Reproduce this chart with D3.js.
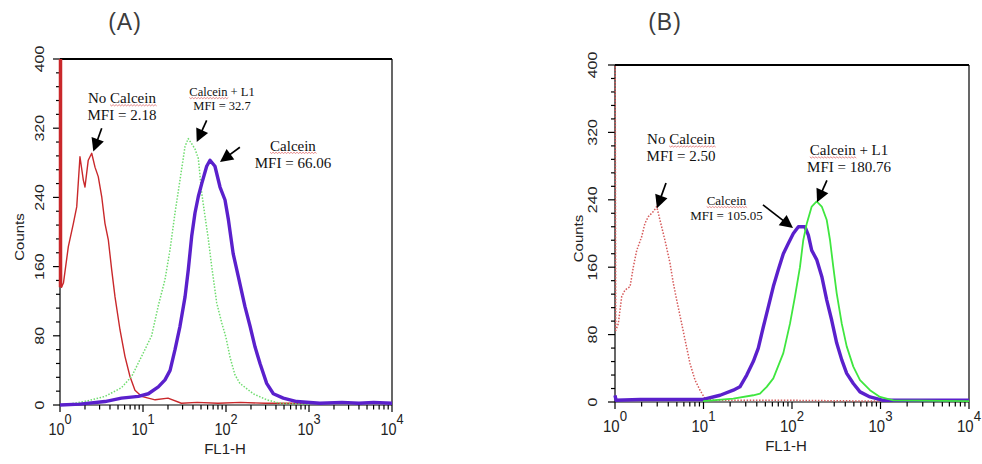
<!DOCTYPE html>
<html><head><meta charset="utf-8">
<script src="https://cdn.jsdelivr.net/npm/d3@7"></script>
<style>body{margin:0;background:#fff}svg{display:block}</style>
</head><body>
<svg id="chart" width="982" height="464"></svg>
<script>
// FL1-H histograms, [channel value, counts]
const redA = [[1,520],[1.04,136],[1.1,141],[1.26,183],[1.45,210],[1.59,229],[1.74,287],[1.91,260],[2.0,252],[2.19,283],[2.41,291],[2.64,275],[2.89,264],[3.18,241],[3.48,210],[3.82,191],[4.2,156],[4.6,125],[5.28,87],[6.07,56],[6.97,33],[8.0,17],[9.6,10],[14,6],[20,8],[29,2],[45,3],[80,2],[150,3],[300,2],[1000,2]];
const greenA = [[1,0],[1.5,2],[2.19,5],[3.5,10],[5.5,20],[7.3,33],[9.6,56],[12.7,80],[15.3,115],[18.4,145],[21.2,180],[24.3,222],[27.9,260],[32.1,299],[35.1,308],[38.6,302],[42.3,296],[46.4,285],[51,245],[55.9,218],[61.2,192],[67.3,160],[77.3,118],[88.8,95],[100,78],[112,55],[128,35],[147,25],[213,13],[309,6],[447,2],[1000,1]];
const purpleA = [[1,0],[1.74,1],[3.48,4],[5.5,8],[8.8,10],[11.6,13],[15.3,21],[18.4,29],[21.2,40],[24.3,64],[27.9,91],[32.1,125],[35.1,156],[38.6,195],[42.3,222],[46.4,241],[51,256],[58.5,276],[64.2,283],[73.6,276],[84.7,252],[97.3,237],[107,214],[122,175],[141,148],[169,114],[195,91],[224,67],[257,48],[309,25],[372,13],[490,8],[711,4],[1350,2],[2500,3],[4000,2],[6000,3],[10000,2]];

const redB = [[1,520],[1.02,85],[1.09,93],[1.19,125],[1.30,133],[1.48,137],[1.61,160],[1.76,180],[2.0,196],[2.18,212],[2.38,220],[2.71,226],[2.96,232],[3.22,216],[3.67,192],[4.18,165],[4.56,141],[4.98,121],[5.67,93],[6.18,74],[7.03,46],[8.02,26],[9.13,14],[10.4,4],[13,2],[100,2],[1000,1]];
const greenB = [[9.9,1],[21.7,4],[36.5,8],[43.5,10],[51.8,18],[61.5,28],[79.8,58],[94.9,93],[108,125],[123,160],[134,192],[147,212],[167,232],[190,238],[217,232],[247,216],[269,192],[293,160],[320,129],[365,93],[415,66],[493,42],[587,26],[761,14],[986,6],[1396,2],[10000,1]];
const purpleB = [[1,8],[1.03,2],[1.92,3],[5.4,3],[9.95,3],[15.4,8],[21.7,14],[25.8,18],[30.8,32],[36.5,48],[41.6,64],[47.4,89],[54,113],[61.5,137],[70,157],[79.8,176],[90.8,188],[103.5,200],[118,208],[140,208],[153,198],[167,180],[190,169],[217,149],[247,121],[281,97],[320,70],[365,50],[415,34],[493,22],[587,12],[761,6],[1075,2],[10000,2]];

const yTickValues = [0, 80, 160, 240, 320, 400];
const xDecades = [0, 1, 2, 3, 4];
const panelTitles = ["(A)", "(B)"];
const labelsA = [["No Calcein", "MFI = 2.18"], ["Calcein + L1", "MFI = 32.7"], ["Calcein", "MFI = 66.06"]];
const labelsB = [["No Calcein", "MFI = 2.50"], ["Calcein", "MFI = 105.05"], ["Calcein + L1", "MFI = 180.76"]];

const svg = d3.select("#chart");

const panels = [
  {
    id: "A", title: panelTitles[0], left: 60, right: 392, top: 59, bottom: 405,
    titleX: 125, xLabX: 225, countsX: 19, yLabOff: 21, xLabScale: 0.85,
    series: [
      {data: redA, color: "#c9282b", width: 1.4, dash: null},
      {data: greenA, color: "#6fdc6f", width: 1.5, dash: "1.5 1.6"},
      {data: purpleA, color: "#5a20cc", width: 3.4, dash: null}
    ],
    spike: {data: redA, color: "#c9282b", width: 3.5},
    notes: [
      {text: labelsA[0], at: [5.58, 355], size: 15, tail: [3.18, 320], tip: [2.52, 293]},
      {text: labelsA[1], at: [89.5, 362], size: 12.5, tail: [58.5, 329], tip: [44.4, 304]},
      {text: labelsA[2], at: [641, 300], size: 15, tail: [147, 298], tip: [84.7, 281]}
    ]
  },
  {
    id: "B", title: panelTitles[1], left: 615, right: 969, top: 65, bottom: 402,
    titleX: 665, xLabX: 786, countsX: 578, yLabOff: 23, xLabScale: 0.88,
    series: [
      {data: redB, color: "#d65a5a", width: 1.5, dash: "1.5 1.6"},
      {data: purpleB, color: "#5a20cc", width: 3.4, dash: null},
      {data: greenB, color: "#3fe63f", width: 1.8, dash: null}
    ],
    spike: null,
    notes: [
      {text: labelsB[0], at: [5.57, 312], size: 15, tail: [3.77, 260], tip: [2.98, 230]},
      {text: labelsB[1], at: [18.2, 239], size: 13, tail: [47, 234], tip: [102.6, 206.5]},
      {text: labelsB[2], at: [441, 299], size: 15, tail: [248, 263], tip: [192, 237]}
    ]
  }
];

function drawArrow(g, x1, y1, x2, y2) {
  const dx = x2 - x1, dy = y2 - y1, L = Math.hypot(dx, dy);
  const ux = dx / L, uy = dy / L, head = 13, hw = 6.5;
  const bx = x2 - ux * head, by = y2 - uy * head;
  g.append("line").attr("x1", x1).attr("y1", y1).attr("x2", bx + ux * 2).attr("y2", by + uy * 2)
    .attr("stroke", "#000").attr("stroke-width", 1.7);
  g.append("path")
    .attr("d", `M${x2},${y2}L${bx - uy * hw},${by + ux * hw}L${bx + uy * hw},${by - ux * hw}Z`)
    .attr("fill", "#000");
}

// red spell-check style wavy underline
function squiggle(g, x0, x1, y) {
  let d = `M${x0},${y}`;
  for (let x = x0, i = 0; x < x1; x += 1.5, i++) d += `L${x + 1.5},${y + (i % 2 ? 0 : 1.2)}`;
  g.append("path").attr("d", d).attr("fill", "none").attr("stroke", "#d03030")
    .attr("stroke-width", 0.7).attr("opacity", 0.8);
}

panels.forEach(p => {
  const g = svg.append("g");
  const x = d3.scaleLog().domain([1, 1e4]).range([p.left, p.right]);
  const y = d3.scaleLinear().domain([0, 400]).range([p.bottom, p.top]);

  // panel title
  g.append("text").attr("x", p.titleX).attr("y", 30).attr("text-anchor", "middle")
    .attr("font-family", "Liberation Sans, Arial, sans-serif").attr("font-size", 23)
    .attr("letter-spacing", 1).attr("fill", "#3c3c3c").text(p.title);

  // clip region for the histogram traces
  const clipId = "clip" + p.id;
  svg.append("clipPath").attr("id", clipId).append("rect")
    .attr("x", p.left - 2).attr("y", p.top).attr("width", p.right - p.left + 4).attr("height", p.bottom - p.top + 2);

  // y axis ticks (major every 80, minor every 16)
  d3.range(0, 401, 16).forEach(v => {
    const major = v % 80 === 0;
    g.append("line").attr("x1", p.left - (major ? 7 : 4)).attr("x2", p.left)
      .attr("y1", y(v)).attr("y2", y(v)).attr("stroke", "#000").attr("stroke-width", 1.2);
  });
  yTickValues.forEach(v => {
    g.append("text")
      .attr("transform", `translate(${p.left - p.yLabOff},${y(v)}) rotate(-90) scale(1,0.85)`)
      .attr("text-anchor", "middle").attr("dominant-baseline", "central")
      .attr("font-family", "Liberation Sans, Arial, sans-serif").attr("font-size", 16)
      .attr("fill", "#222").text(v);
  });
  g.append("text")
    .attr("transform", `translate(${p.countsX},${(p.top + p.bottom) / 2 + 5}) rotate(-90) scale(1,0.9)`)
    .attr("text-anchor", "middle").attr("dominant-baseline", "central")
    .attr("font-family", "Liberation Sans, Arial, sans-serif").attr("font-size", 15)
    .attr("fill", "#222").text("Counts");

  // x axis log ticks
  xDecades.forEach(d => {
    const base = Math.pow(10, d);
    const ks = d < 4 ? d3.range(1, 10) : [1];
    ks.forEach(k => {
      const v = k * base, major = k === 1;
      g.append("line").attr("x1", x(v)).attr("x2", x(v))
        .attr("y1", p.bottom).attr("y2", p.bottom + (major ? 7 : 4.5))
        .attr("stroke", "#000").attr("stroke-width", 1.2);
    });
    const lab = g.append("text")
      .attr("transform", `translate(${x(base)},${p.bottom + 30}) scale(${p.xLabScale},1)`)
      .attr("text-anchor", "middle")
      .attr("font-family", "Liberation Sans, Arial, sans-serif").attr("fill", "#222");
    lab.append("tspan").attr("font-size", 17).text("10");
    lab.append("tspan").attr("font-size", 15).attr("dy", -11).text(d);
  });
  g.append("text").attr("x", p.xLabX).attr("y", p.bottom + 49).attr("text-anchor", "middle")
    .attr("font-family", "Liberation Sans, Arial, sans-serif").attr("font-size", 15)
    .attr("fill", "#222").text("FL1-H");

  // frame
  g.append("line").attr("x1", p.left).attr("x2", p.right).attr("y1", p.top).attr("y2", p.top)
    .attr("stroke", "#000").attr("stroke-width", 1.8);
  g.append("line").attr("x1", p.right).attr("x2", p.right).attr("y1", p.top).attr("y2", p.bottom)
    .attr("stroke", "#000").attr("stroke-width", 1.2);
  g.append("line").attr("x1", p.left).attr("x2", p.right).attr("y1", p.bottom).attr("y2", p.bottom)
    .attr("stroke", "#000").attr("stroke-width", 1.2);
  g.append("line").attr("x1", p.left).attr("x2", p.left).attr("y1", p.top).attr("y2", p.bottom)
    .attr("stroke", "#000").attr("stroke-width", 1.2);

  // histogram traces
  const line = d3.line().x(d => x(d[0])).y(d => y(d[1])).curve(d3.curveLinear);
  const traces = g.append("g").attr("clip-path", `url(#${clipId})`);
  if (p.spike) {
    const s = p.spike.data;
    traces.append("line").attr("x1", x(s[0][0]) + 0.5).attr("x2", x(s[0][0]) + 0.5)
      .attr("y1", y(s[0][1])).attr("y2", y(s[1][1]))
      .attr("stroke", p.spike.color).attr("stroke-width", p.spike.width);
  }
  p.series.forEach(s => {
    traces.append("path").datum(s.data).attr("d", line)
      .attr("fill", "none").attr("stroke", s.color).attr("stroke-width", s.width)
      .attr("stroke-linejoin", "round").attr("stroke-dasharray", s.dash);
  });

  // annotations
  p.notes.forEach(n => {
    const cx = x(n.at[0]), cy = y(n.at[1]);
    n.text.forEach((t, i) => {
      const te = g.append("text").attr("x", cx).attr("y", cy + i * n.size * 1.15)
        .attr("text-anchor", "middle").attr("dominant-baseline", "central")
        .attr("font-family", "Liberation Serif, Times New Roman, serif")
        .attr("font-size", n.size).attr("fill", "#111").text(t);
      const idx = t.indexOf("Calcein");
      if (idx >= 0) {
        const node = te.node();
        const total = node.getComputedTextLength();
        const start = cx - total / 2 + (idx > 0 ? node.getSubStringLength(0, idx) : 0);
        const w = node.getSubStringLength(idx, 7);
        squiggle(g, start, start + w, cy + i * n.size * 1.15 + n.size * 0.45);
      }
    });
    drawArrow(g, x(n.tail[0]), y(n.tail[1]), x(n.tip[0]), y(n.tip[1]));
  });
});
</script>
</body></html>
